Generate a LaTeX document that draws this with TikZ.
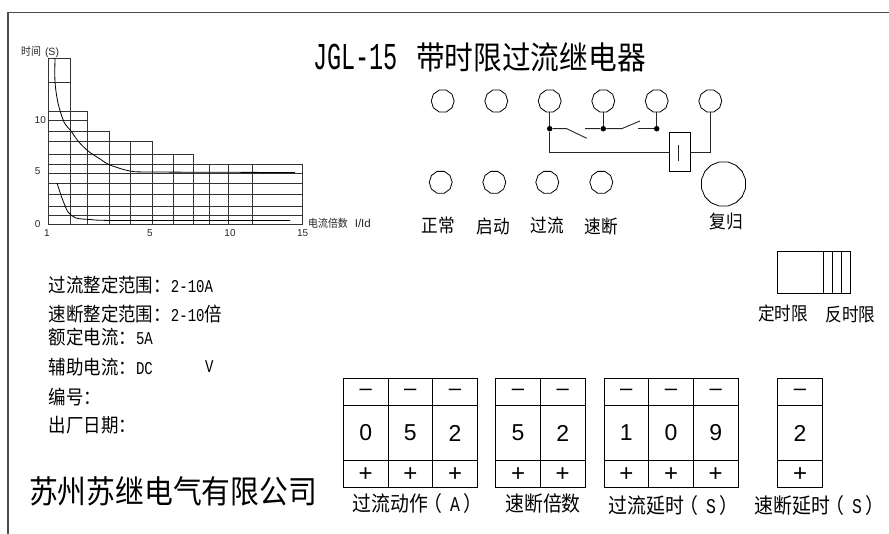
\documentclass[tikz,border=0pt]{standalone}
\usetikzlibrary{shapes.geometric}
\usepackage{fontspec}
\setmainfont{Noto Sans CJK SC}
\newfontfamily\latinf{Liberation Sans}
\newfontfamily\narrowf[FakeStretch=0.78]{Liberation Mono}
\newfontfamily\titlef[FakeStretch=0.62]{Liberation Mono}
\newfontfamily\cjkf[FakeStretch=0.9]{Noto Sans CJK SC}
\tikzset{
  ln/.style={line width=0.9pt,black!85},
  grd/.style={line width=0.85pt,black!80},
  cur/.style={line width=0.8pt,black,smooth},
  lamp/.style={regular polygon,regular polygon sides=10,draw,line width=0.8pt,minimum size=23pt,inner sep=0pt},
  dotn/.style={circle,fill=black,minimum size=5.5pt,inner sep=0pt},
  tick/.style={font=\latinf\fontsize{10}{10}\selectfont,inner sep=0pt,text=black!85},
  smallcjk/.style={font=\cjkf\fontsize{11}{11}\selectfont,inner sep=0pt,anchor=west,text=black!85},
  lbl/.style={font=\cjkf\fontsize{19.4}{19.4}\selectfont,inner sep=0pt,anchor=west},
  lamplbl/.style={font=\cjkf\fontsize{18.5}{18.5}\selectfont,inner sep=0pt,anchor=center},
  captxt/.style={font=\cjkf\fontsize{21}{21}\selectfont,inner sep=0pt,anchor=west},
  digit/.style={font=\latinf\fontsize{23}{23}\selectfont,inner sep=0pt},
  minussym/.style={font=\latinf\fontsize{22}{22}\selectfont,inner sep=0pt},
  plussym/.style={font=\latinf\fontsize{24}{24}\selectfont,inner sep=0pt},
  cell/.style={line width=0.9pt},
}
\newcommand{\nw}[1]{{\narrowf #1}}
\newcommand{\parunit}[1]{\hspace{-5pt}（\hspace{8pt}\nw{#1}\hspace{3pt}）}
\begin{document}
\begin{tikzpicture}[x=1pt,y=-1pt]
\useasboundingbox (0,0) rectangle (889,534);
\fill[white] (0,0) rectangle (889,534);
% frame
\coordinate (fa) at (889,12.7); \coordinate (fb) at (8,12.7); \coordinate (fc) at (8,534);
\draw[line width=1.2pt,black!70] (fa) -- (fb) -- (fc);
% grid horizontals
\foreach \y/\x in {58/70.5,82/70.5,111/88,120/88,131/110,141.5/152,154.5/193.5,164/302.5,173/302.5,183.5/302.5,194.5/302.5,206/302.5,215/302.5,224/302.5}
  \draw[grd] (48,\y) -- (\x,\y);
% grid verticals
\foreach \x/\y in {48.3/58,70.3/58,87.8/111,109.8/131,130.3/141.5,152/141.5,173.3/154.5,193.5/154.5,209.3/164,228.5/164,252/164,302.5/164}
  \draw[grd] (\x,\y) -- (\x,224);
% curves
\draw[cur] plot coordinates {(55,58) (55,82) (58,103) (64,122) (71,131) (78,141) (88,151) (100,159) (110,165) (130,171) (152,172) (295,172.5)};
\draw[cur] plot coordinates {(57,183) (62,198) (68,212) (76,218) (90,219.5) (118,220.5) (290,220.5)};
% chart text
\node[smallcjk] (ylab) at (21,52) {时间\hspace{4pt}{\latinf\fontsize{10.5}{10.5}\selectfont (S)}};
\node[tick] (y10) at (40.3,120) {10};
\node[tick] (y5) at (37.7,171.5) {5};
\node[tick] (y0) at (37.7,224) {0};
\node[tick] (x1) at (47,233.3) {1};
\node[tick] (x5) at (150,233.3) {5};
\node[tick] (x10) at (230,233.3) {10};
\node[tick] (x15) at (302.7,233.3) {15};
\node[smallcjk] (xlab) at (308,223.3) {电流倍数\hspace{7pt}{\latinf\fontsize{11.5}{11.5}\selectfont I/Id}};
% title
\node[inner sep=0pt,anchor=west] (title) at (313,57) {{\titlef\fontsize{38}{38}\selectfont JGL-15}\hspace{18pt}{\cjkf\fontsize{31.9}{31.9}\selectfont 带时限过流继电器}};
% lamps top
\node[lamp] (t1) at (442.7,101) {};
\node[lamp] (t2) at (496.3,101) {};
\node[lamp] (t3) at (549.7,101) {};
\node[lamp] (t4) at (603.3,101) {};
\node[lamp] (t5) at (656.7,101) {};
\node[lamp] (t6) at (710.3,101) {};
% lamps bottom
\node[lamp] (b1) at (440.7,182.3) {};
\node[lamp] (b2) at (494.3,182.3) {};
\node[lamp] (b3) at (547.3,182.3) {};
\node[lamp] (b4) at (601.3,182.3) {};
\node[regular polygon,regular polygon sides=16,draw,line width=0.8pt,minimum size=45pt,inner sep=0pt] (reset) at (723.5,184) {};
% circuit
\node[dotn] (d1) at (549.7,128.7) {};
\node[dotn] (d2) at (603.3,128.7) {};
\node[dotn] (d3) at (656.7,128.7) {};
\node[draw,line width=0.9pt,minimum width=21.3pt,minimum height=38.3pt,inner sep=0pt] (relay) at (680,152) {};
\coordinate (rt) at (678.3,145); \coordinate (rb) at (678.3,160.7);
\draw[ln] (rt) -- (rb);
\coordinate (s1a) at (566.7,128.7); \coordinate (s1b) at (586.7,138.3);
\coordinate (s2l) at (585,128.7); \coordinate (s2a) at (621.7,128.7); \coordinate (s2b) at (640,121);
\coordinate (s3) at (638.3,128.7);
\draw[ln] (t3) -- (d1);
\draw[ln] (t4) -- (d2);
\draw[ln] (t5) -- (d3);
\draw[ln] (d1) -- (s1a) -- (s1b);
\draw[ln] (s2l) -- (d2) -- (s2a) -- (s2b);
\draw[ln] (s3) -- (d3);
\draw[ln] (d1) |- (relay.west);
\draw[ln] (t6) |- (relay.east);
% lamp labels
\node[lamplbl] (l1) at (438,225) {正常};
\node[lamplbl] (l2) at (493,226) {启动};
\node[lamplbl] (l3) at (547,225) {过流};
\node[lamplbl] (l4) at (601,226) {速断};
\node[lamplbl] (l5) at (726,222) {复归};
% selector
\node[draw,line width=0.8pt,minimum width=73.6pt,minimum height=42.6pt,inner sep=0pt,anchor=north west] (sel) at (776.7,250.7) {};
\foreach \x in {823,832.3,841}
  \draw[line width=0.8pt] (\x,250.7) -- (\x,293.3);
\node[lamplbl] (dt) at (783,313) {定时限};
\node[lamplbl] (it) at (850.5,315) {反时限};
% spec text
\node[lbl] (s1) at (48.5,285) {过流整定范围：\nw{\fontsize{18}{18}\selectfont 2-10A}};
\node[lbl] (s2) at (48.5,314) {速断整定范围：\nw{\fontsize{18}{18}\selectfont 2-10}倍};
\node[lbl] (s3t) at (48.5,337) {额定电流：\nw{\fontsize{18}{18}\selectfont 5A}};
\node[lbl] (s4) at (48.5,367) {辅助电流：\nw{\fontsize{18}{18}\selectfont DC}};
\node[lbl] (s4v) at (205,367) {\nw{\fontsize{18}{18}\selectfont V}};
\node[lbl] (s5) at (48.5,397) {编号：};
\node[lbl] (s6) at (48.5,425) {出厂日期：};
\node[inner sep=0pt,anchor=west,font=\cjkf\fontsize{32}{32}\selectfont] (co) at (29,491) {苏州苏继电气有限公司};
% switch blocks
\newcommand{\swblock}[3]{% name, left x, digits
  \foreach \d [count=\i from 0] in {#3} {
    \pgfmathsetmacro{\xl}{#2+\i*44.7}
    \pgfmathsetmacro{\xm}{\xl+22.35}
    \draw[cell] (\xl,378) rectangle ++(44.7,109.3);
    \draw[cell] (\xl,405) -- ++(44.7,0);
    \draw[cell] (\xl,460) -- ++(44.7,0);
    \node[minussym] (#1m\i) at (\xm,392.2) {\textendash};
    \node[digit] (#1d\i) at (\xm,433) {\d};
    \node[plussym] (#1p\i) at (\xm,475) {+};
  }
}
\swblock{ba}{343.3}{0,5,2}
\swblock{bb}{495.7}{5,2}
\swblock{bc}{604}{1,0,9}
\swblock{bd}{777.7}{2}
\node[captxt] (c1) at (352.5,503.5) {过流动作\parunit{A}};
\node[captxt] (c2) at (505,503.5) {速断倍数};
\node[captxt] (c3) at (608.5,505.5) {过流延时\parunit{S}};
\node[captxt] (c4) at (754.5,505.5) {速断延时\parunit{S}};
\end{tikzpicture}
\end{document}
